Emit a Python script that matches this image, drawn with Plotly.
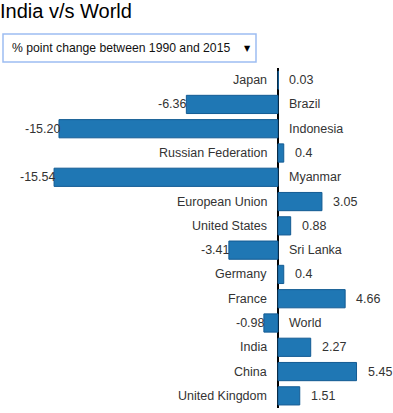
import plotly.graph_objects as go

countries = ["Japan", "Brazil", "Indonesia", "Russian Federation", "Myanmar",
             "European Union", "United States", "Sri Lanka", "Germany", "France",
             "World", "India", "China", "United Kingdom"]
values = [0.03, -6.36, -15.20, 0.4, -15.54, 3.05, 0.88, -3.41, 0.4, 4.66,
          -0.98, 2.27, 5.45, 1.51]
value_labels = ["0.03", "-6.36", "-15.20", "0.4", "-15.54", "3.05", "0.88",
                "-3.41", "0.4", "4.66", "-0.98", "2.27", "5.45", "1.51"]
title_text = "India v/s World"
dropdown_text = "% point change between 1990 and 2015"

W, H = 393, 413
M_L, M_R, M_T, M_B = 0, 0, 68, 5
PH = H - M_T - M_B
FONT = "Liberation Sans, Arial, sans-serif"

def py(p):
    return 1 - (p - M_T) / PH

def pxx(p):
    return (p - M_L) / (W - M_L - M_R)

ZERO = 278
SCALE = 14.41

fig = go.Figure()
fig.add_trace(go.Bar(
    x=values, y=countries, orientation="h",
    marker=dict(color="#1f77b4", line=dict(color="#135b93", width=1)),
    hoverinfo="skip", width=0.75,
))

ann = []
lf = dict(family=FONT, size=12.5, color="#333")
for c, v, lab in zip(countries, values, value_labels):
    if v >= 0:
        ann.append(dict(x=0, y=c, text=c, xanchor="right", xshift=-9,
                        showarrow=False, font=lf))
        ann.append(dict(x=v, y=c, text=lab, xanchor="left", xshift=9,
                        showarrow=False, font=lf))
    else:
        ann.append(dict(x=0, y=c, text=c, xanchor="left", xshift=9,
                        showarrow=False, font=lf))
        ann.append(dict(x=v, y=c, text=lab, xanchor="right", xshift=3,
                        showarrow=False, font=lf))

# title
ann.append(dict(xref="paper", yref="paper", x=pxx(-2), y=py(-2), text=title_text,
                xanchor="left", yanchor="top", showarrow=False,
                font=dict(family=FONT, size=20, color="#000")))
# dropdown text
ann.append(dict(xref="paper", yref="paper", x=pxx(10), y=py(48.5), text=dropdown_text,
                xanchor="left", yanchor="middle", showarrow=False,
                font=dict(family=FONT, size=12.2, color="#111")))
ann.append(dict(xref="paper", yref="paper", x=pxx(247), y=py(48), text="▼",
                xanchor="center", yanchor="middle", showarrow=False,
                font=dict(family="DejaVu Sans", size=8, color="#000")))

shapes = [dict(type="rect", xref="paper", yref="paper",
               x0=pxx(3), x1=pxx(256), y0=py(62), y1=py(34),
               line=dict(color="#9dbdf2", width=1.5), fillcolor="white", layer="above")]

fig.update_layout(
    width=W, height=H, margin=dict(l=M_L, r=M_R, t=M_T, b=M_B),
    paper_bgcolor="white", plot_bgcolor="white", showlegend=False,
    xaxis=dict(range=[-ZERO / SCALE, (W - ZERO) / SCALE], showgrid=False, showticklabels=False,
               zeroline=True, zerolinecolor="#000", zerolinewidth=1.5, fixedrange=True),
    yaxis=dict(autorange="reversed", showticklabels=False, showgrid=False,
               zeroline=False, fixedrange=True),
    annotations=ann, shapes=shapes, bargap=0.25,
)
fig.write_html("out.html", config={"displayModeBar": False},
               post_script="document.body.style.margin='0';document.body.style.overflow='hidden';")
